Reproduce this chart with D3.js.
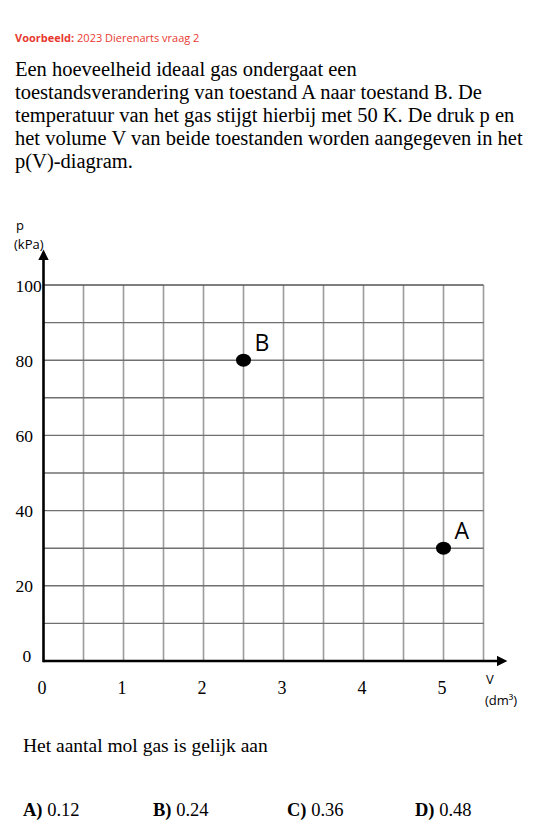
<!DOCTYPE html>
<html>
<head>
<meta charset="utf-8">
<script src="https://cdn.jsdelivr.net/npm/d3@7"></script>
<style>
  html, body { margin: 0; padding: 0; background: #fff; }
  svg { display: block; }
</style>
</head>
<body>
<svg id="chart" width="536" height="840"></svg>
<script>
// ---------- data ----------
const headerLabel = "Voorbeeld:";
const headerText = "2023 Dierenarts vraag 2";
const questionLines = [
  "Een hoeveelheid ideaal gas ondergaat een",
  "toestandsverandering van toestand A naar toestand B. De",
  "temperatuur van het gas stijgt hierbij met 50 K. De druk p en",
  "het volume V van beide toestanden worden aangegeven in het",
  "p(V)-diagram."
];
const volumeTicks = [0, 1, 2, 3, 4, 5];          // dm³
const pressureTicks = [0, 20, 40, 60, 80, 100];  // kPa
const volumeGrid = [0.5, 1, 1.5, 2, 2.5, 3, 3.5, 4, 4.5, 5, 5.5];
const pressureGrid = [10, 20, 30, 40, 50, 60, 70, 80, 90, 100];
const stateNames = ["A", "B"];
const stateVolume = [5, 2.5];     // dm³
const statePressure = [30, 80];   // kPa
const promptText = "Het aantal mol gas is gelijk aan";
const answerLetters = ["A)", "B)", "C)", "D)"];
const answerValues = ["0.12", "0.24", "0.36", "0.48"];

// ---------- drawing ----------
const svg = d3.select("#chart");
const serif = "'Liberation Serif', 'DejaVu Serif', serif";
const sans = "'Open Sans', 'Liberation Sans', sans-serif";

// header
const hdr = svg.append("text").attr("x", 15).attr("y", 42)
  .attr("font-family", sans).attr("font-size", 11).attr("fill", "#e8392f");
hdr.append("tspan").attr("font-weight", "bold").text(headerLabel + " ");
hdr.append("tspan").text(headerText);

// question paragraph
svg.append("g").selectAll("text").data(questionLines).join("text")
  .attr("x", 15).attr("y", (d, i) => 76 + i * 23)
  .attr("font-family", serif).attr("font-size", 20.5).attr("fill", "#000")
  .text(d => d);

// scales
const x = d3.scaleLinear().domain([0, 5.5]).range([43.5, 483.5]);
const y = d3.scaleLinear().domain([0, 100]).range([661, 285]);

const plot = svg.append("g");

// grid: vertical
plot.append("g").selectAll("line").data(volumeGrid).join("line")
  .attr("x1", d => x(d)).attr("x2", d => x(d))
  .attr("y1", y(0)).attr("y2", y(100))
  .attr("stroke", "#9c9c9c").attr("stroke-width", 1.6);
// grid: horizontal
plot.append("g").selectAll("line").data(pressureGrid).join("line")
  .attr("x1", x(0)).attr("x2", x(5.5))
  .attr("y1", d => y(d)).attr("y2", d => y(d))
  .attr("stroke", d => d === 100 ? "#555" : "#707070").attr("stroke-width", 1.4);

// axes with d3 axis generators (tick labels only)
const xAxis = d3.axisBottom(x).tickValues(volumeTicks).tickSize(0).tickPadding(0).tickFormat(d3.format("d"));
const gx = plot.append("g").attr("transform", `translate(0,${y(0)})`).call(xAxis)
  .attr("font-family", serif).attr("font-size", 18);
gx.select(".domain").remove();
gx.selectAll("text").attr("fill", "#000").attr("dy", null).attr("y", 33)
  .attr("dx", -2);

const yAxis = d3.axisLeft(y).tickValues(pressureTicks).tickSize(0).tickPadding(0).tickFormat(d3.format("d"));
const gy = plot.append("g").attr("transform", `translate(${x(0)},0)`).call(yAxis)
  .attr("font-family", serif).attr("font-size", 17.5);
gy.select(".domain").remove();
gy.selectAll("text").attr("fill", "#000").attr("text-anchor", "start")
  .attr("x", d => d === 0 ? -21 : -28)
  .attr("dy", d => d === 0 ? "0.05em" : "0.35em");

// axis lines with arrows
svg.append("defs").append("marker")
  .attr("id", "arrow").attr("viewBox", "0 0 10 10")
  .attr("refX", 0).attr("refY", 5).attr("markerWidth", 4.5).attr("markerHeight", 4)
  .attr("markerUnits", "strokeWidth").attr("orient", "auto")
  .append("path").attr("d", "M0,0 L10,5 L0,10 Z").attr("fill", "#000");

plot.append("line").attr("x1", x(0)).attr("x2", 497)
  .attr("y1", y(0)).attr("y2", y(0))
  .attr("stroke", "#000").attr("stroke-width", 2.6).attr("marker-end", "url(#arrow)");
plot.append("line").attr("x1", x(0)).attr("x2", x(0))
  .attr("y1", y(0) + 1.3).attr("y2", 260)
  .attr("stroke", "#000").attr("stroke-width", 2.6).attr("marker-end", "url(#arrow)");

// axis titles
svg.append("text").attr("x", 16).attr("y", 230).attr("font-family", sans)
  .attr("font-size", 13).text("p");
svg.append("text").attr("x", 14).attr("y", 249).attr("font-family", sans)
  .attr("font-size", 13).text("(kPa)");
svg.append("text").attr("x", 486).attr("y", 684).attr("font-family", sans)
  .attr("font-size", 13).text("V");
svg.append("text").attr("x", 485).attr("y", 705).attr("font-family", sans)
  .attr("font-size", 13).text("(dm³)");

// state points
const states = stateNames.map((n, i) => ({ name: n, v: stateVolume[i], p: statePressure[i] }));
plot.append("g").selectAll("ellipse").data(states).join("ellipse")
  .attr("cx", d => x(d.v)).attr("cy", d => y(d.p))
  .attr("rx", 7.5).attr("ry", 6.5).attr("fill", "#000");
plot.append("g").selectAll("text").data(states).join("text")
  .attr("x", d => x(d.v) + 11).attr("y", d => y(d.p) - 9)
  .attr("font-family", sans).attr("font-size", 23).attr("fill", "#000")
  .text(d => d.name);

// prompt and answers
svg.append("text").attr("x", 23).attr("y", 752).attr("font-family", serif)
  .attr("font-size", 19.5).text(promptText);

const ansX = [23, 153, 287, 415];
const ans = svg.append("g").selectAll("text").data(answerLetters).join("text")
  .attr("x", (d, i) => ansX[i]).attr("y", 816)
  .attr("font-family", serif).attr("font-size", 18.5);
ans.append("tspan").attr("font-weight", "bold").text(d => d);
ans.append("tspan").text((d, i) => " " + answerValues[i]);
</script>
</body>
</html>
